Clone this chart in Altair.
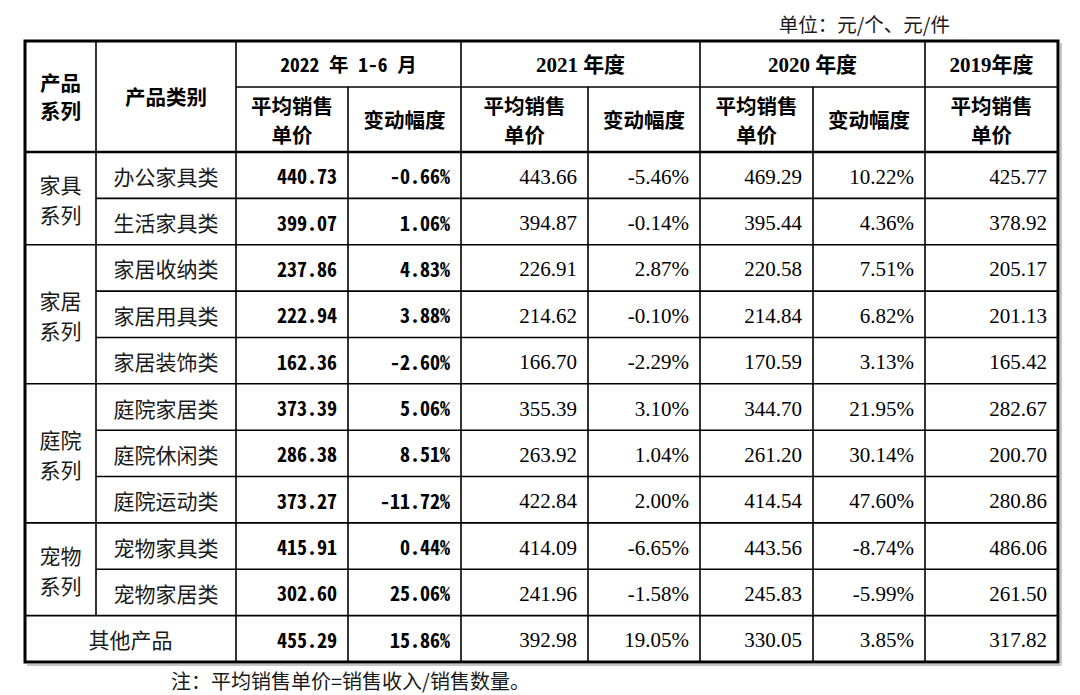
import altair as alt
import pandas as pd

# ---------------- data ----------------
series_names = ["家具系列", "家居系列", "庭院系列", "宠物系列"]
series_sizes = [2, 3, 3, 2]
categories = ["办公家具类", "生活家具类", "家居收纳类", "家居用具类", "家居装饰类",
              "庭院家居类", "庭院休闲类", "庭院运动类", "宠物家具类", "宠物家居类", "其他产品"]
price_2022 = [440.73, 399.07, 237.86, 222.94, 162.36, 373.39, 286.38, 373.27, 415.91, 302.60, 455.29]
change_2022 = [-0.66, 1.06, 4.83, 3.88, -2.60, 5.06, 8.51, -11.72, 0.44, 25.06, 15.86]
price_2021 = [443.66, 394.87, 226.91, 214.62, 166.70, 355.39, 263.92, 422.84, 414.09, 241.96, 392.98]
change_2021 = [-5.46, -0.14, 2.87, -0.10, -2.29, 3.10, 1.04, 2.00, -6.65, -1.58, 19.05]
price_2020 = [469.29, 395.44, 220.58, 214.84, 170.59, 344.70, 261.20, 414.54, 443.56, 245.83, 330.05]
change_2020 = [10.22, 4.36, 7.51, 6.82, 3.13, 21.95, 30.14, 47.60, -8.74, -5.99, 3.85]
price_2019 = [425.77, 378.92, 205.17, 201.13, 165.42, 282.67, 200.70, 280.86, 486.06, 261.50, 317.82]

period_labels = ["2022 年 1-6 月", "2021 年度", "2020 年度", "2019年度"]
head_series = "产品\n系列"
head_category = "产品类别"
head_price = "平均销售\n单价"
head_change = "变动幅度"
unit_text = "单位：元/个、元/件"
note_text = "注：平均销售单价=销售收入/销售数量。"

# ---------------- layout ----------------
col_edges = [25, 96, 236, 348, 461, 588, 700, 813, 925, 1058]
top, mid, hbot, bottom = 41, 87, 152, 662
n_rows = len(categories)
row_h = (bottom - hbot) / n_rows
row_edges = [hbot + i * row_h for i in range(n_rows + 1)]
pad_r = 11

def cx(a, b):
    return (col_edges[a] + col_edges[b]) / 2

def lines(text, xc, yc, spacing):
    parts = text.split("\n")
    n = len(parts)
    return [{"x": xc, "y": yc + (i - (n - 1) / 2) * spacing, "t": p} for i, p in enumerate(parts)]

hdr_sans, hdr_serif, hdr_mono = [], [], []
hdr_sans += lines(head_series, cx(0, 1), (top + hbot) / 2, 28)
hdr_sans += lines(head_category, cx(1, 2), (top + hbot) / 2, 26)
hdr_mono += lines(period_labels[0], cx(2, 4), (top + mid) / 2, 26)
hdr_serif += lines(period_labels[1], cx(4, 6), (top + mid) / 2, 26)
hdr_serif += lines(period_labels[2], cx(6, 8), (top + mid) / 2, 26)
hdr_serif += lines(period_labels[3], cx(8, 9), (top + mid) / 2, 26)
for a in [2, 4, 6, 8]:
    hdr_sans += lines(head_price, cx(a, a + 1), (mid + hbot) / 2, 29)
for a in [3, 5, 7]:
    hdr_sans += lines(head_change, cx(a, a + 1), (mid + hbot) / 2, 29)

cjk_rows = []
start = 0
for name, size in zip(series_names, series_sizes):
    yc = (row_edges[start] + row_edges[start + size]) / 2
    cjk_rows += lines(name[:2] + "\n" + name[2:], cx(0, 1), yc, 30)
    start += size
for i, c in enumerate(categories):
    yc = (row_edges[i] + row_edges[i + 1]) / 2
    if i == n_rows - 1:
        cjk_rows += lines(c, cx(0, 2), yc, 30)
    else:
        cjk_rows += lines(c, cx(1, 2), yc, 30)

num_mono, num_serif = [], []
for i in range(n_rows):
    yc = (row_edges[i] + row_edges[i + 1]) / 2
    num_mono.append({"x": col_edges[3] - pad_r, "y": yc, "t": f"{price_2022[i]:.2f}"})
    num_mono.append({"x": col_edges[4] - pad_r, "y": yc, "t": f"{change_2022[i]:.2f}%"})
    cols = [price_2021, change_2021, price_2020, change_2020, price_2019]
    for k, arr in enumerate(cols):
        pct = k in (1, 3)
        txt = f"{arr[i]:.2f}%" if pct else f"{arr[i]:.2f}"
        num_serif.append({"x": col_edges[5 + k] - pad_r, "y": yc, "t": txt})

# rules
inner = []
inner.append({"x": col_edges[2], "x2": col_edges[9], "y": mid, "y2": mid, "w": 1.6})
inner.append({"x": col_edges[0], "x2": col_edges[9], "y": hbot, "y2": hbot, "w": 2.4})
group_bounds = set()
acc = 0
for s in series_sizes:
    acc += s
    group_bounds.add(acc)
for i in range(1, n_rows):
    x0 = col_edges[0] if i in group_bounds else col_edges[1]
    inner.append({"x": x0, "x2": col_edges[9], "y": row_edges[i], "y2": row_edges[i], "w": 1.6})
inner.append({"x": col_edges[1], "x2": col_edges[1], "y": top, "y2": row_edges[n_rows - 1], "w": 1.6})
inner.append({"x": col_edges[2], "x2": col_edges[2], "y": top, "y2": bottom, "w": 1.6})
for a in [3, 5, 7]:
    inner.append({"x": col_edges[a], "x2": col_edges[a], "y": mid, "y2": bottom, "w": 1.6})
for a in [4, 6, 8]:
    inner.append({"x": col_edges[a], "x2": col_edges[a], "y": top, "y2": bottom, "w": 1.6})

shadow = [
    {"x": col_edges[0] + 2, "x2": col_edges[9] + 3, "y": bottom + 3, "y2": bottom + 3, "w": 2},
    {"x": col_edges[9] + 3, "x2": col_edges[9] + 3, "y": top + 2, "y2": bottom + 3, "w": 2},
]
border = [{"x": col_edges[0], "x2": col_edges[9], "y": top, "y2": bottom}]

# ---------------- chart ----------------
H = 686
xs = alt.Scale(domain=[8, 1072], zero=False, nice=False)
ys = alt.Scale(domain=[8, 8 + H], zero=False, nice=False, reverse=True)

def enc_xy():
    return dict(x=alt.X("x:Q", scale=xs, axis=None), y=alt.Y("y:Q", scale=ys, axis=None))

def rules(rows, color):
    return alt.Chart(pd.DataFrame(rows)).mark_rule(color=color).encode(
        x=alt.X("x:Q", scale=xs, axis=None), x2="x2:Q",
        y=alt.Y("y:Q", scale=ys, axis=None), y2="y2:Q",
        size=alt.Size("w:Q", scale=None, legend=None),
    )

def texts(rows, font, size, weight="normal", align="center", color="#000", dy=0):
    return alt.Chart(pd.DataFrame(rows)).mark_text(
        font=font, fontSize=size, fontWeight=weight, align=align, baseline="middle",
        color=color, dy=dy
    ).encode(text="t:N", **enc_xy())

SANS = "Noto Sans CJK SC"
MONO = "Noto Sans Mono CJK SC, Noto Sans CJK SC"
SERIF = "Liberation Serif, Noto Sans CJK SC"

layers = [
    rules(shadow, "#c4c4c4"),
    rules(inner, "#000"),
    alt.Chart(pd.DataFrame(border)).mark_rect(fill=None, stroke="#000", strokeWidth=3).encode(
        x=alt.X("x:Q", scale=xs, axis=None), x2="x2:Q",
        y=alt.Y("y:Q", scale=ys, axis=None), y2="y2:Q"),
    texts(hdr_sans, SANS, 20.5, "bold", dy=2.5),
    texts(hdr_mono, MONO, 19.5, "bold", dy=2),
    texts(hdr_serif, SERIF, 21, "bold", dy=2),
    texts(cjk_rows, SANS, 21, "normal", color="#1a1a1a", dy=3.5),
    texts(num_mono, MONO, 20, "bold", align="right", dy=3),
    texts(num_serif, SERIF, 21, "normal", align="right", dy=2.5),
    texts([{"x": 950, "y": 23, "t": unit_text}], SANS, 19.5, "normal", align="right", color="#1a1a1a", dy=3),
    texts([{"x": 171, "y": 681, "t": note_text}], SANS, 20, "normal", align="left", color="#1a1a1a", dy=2),
]

chart = alt.layer(*layers).properties(
    width=1064, height=H, padding=0,
    autosize=alt.AutoSizeParams(type="fit", contains="padding"),
).configure_view(stroke=None)

chart.save("out.html", embed_options={"renderer": "svg", "actions": False})
